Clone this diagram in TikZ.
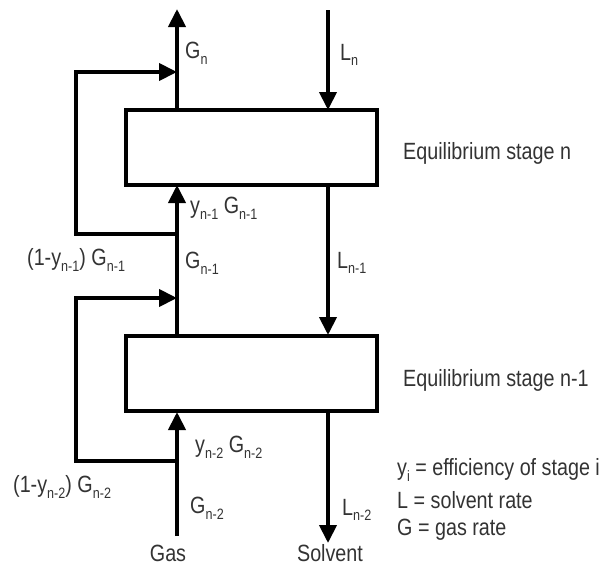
\documentclass[tikz,border=0pt]{standalone}
\usepackage{fontspec}
\setmainfont{Liberation Sans}[FakeStretch=0.84]
\usetikzlibrary{arrows.meta}
\definecolor{txt}{HTML}{333333}
\newcommand\dn[1]{\raisebox{-0.24em}{\fontsize{15}{15}\selectfont #1}}
\begin{document}
\begin{tikzpicture}[x=1pt,y=1pt,
  stagebox/.style={draw=black,line width=4pt,minimum width=251pt,minimum height=75pt,inner sep=0pt},
  flow/.style={line width=4pt,-{Triangle[length=18pt,width=17pt]}},
  lbl/.style={text=txt,font=\fontsize{23.5}{25}\selectfont,inner sep=0pt,anchor=west},
  clbl/.style={text=txt,font=\fontsize{23.5}{25}\selectfont,inner sep=0pt}]
\useasboundingbox (0,0) rectangle (609,-565);
% stages
\node[stagebox] (sn) at (251.5,-147.5) {};
\node[stagebox] (sm) at (251.5,-373.5) {};
% coordinates
\coordinate (gtop) at (177,-9);
\coordinate (snb) at (177,-110);
\coordinate (snbot) at (177,-185);
\coordinate (smt) at (177,-335);
\coordinate (smb) at (177,-412);
\coordinate (gbot) at (177,-536);
\coordinate (m1) at (177,-72);
\coordinate (j1) at (177,-234);
\coordinate (m2) at (177,-298);
\coordinate (j2) at (177,-461);
\coordinate (ltop) at (328,-10);
\coordinate (lnt) at (328,-110);
\coordinate (lnb) at (328,-185);
\coordinate (lmt) at (328,-335);
\coordinate (lmb) at (328,-412);
\coordinate (lbot) at (328,-543);
% gas flows
\draw[line width=4pt] (snb) -- (m1);
\draw[flow] (m1) -- (gtop);
\draw[line width=4pt] (smt) -- (m2);
\draw[line width=4pt] (m2) -- (j1);
\draw[flow] (j1) -- (snbot);
\draw[line width=4pt] (gbot) -- (j2);
\draw[flow] (j2) -- (smb);
% bypass loops
\draw[flow,line join=miter] (j1) -- (76,-234) -- (76,-72) -- (m1);
\draw[flow,line join=miter] (j2) -- (76,-461) -- (76,-298) -- (m2);
% liquid flows
\draw[flow] (ltop) -- (lnt);
\draw[flow] (lnb) -- (lmt);
\draw[flow] (lmb) -- (lbot);
% labels
\node[lbl] (lgn) at (185,-53) {G\dn{n}};
\node[lbl] (lln) at (340,-55) {L\dn{n}};
\node[lbl] (lyg1) at (190,-208) {y\dn{n-1} G\dn{n-1}};
\node[lbl] (lby1) at (27,-260) {(1-y\dn{n-1}) G\dn{n-1}};
\node[lbl] (lg1) at (185,-263) {G\dn{n-1}};
\node[lbl] (ll1) at (337,-263) {L\dn{n-1}};
\node[lbl] (lyg2) at (195,-447) {y\dn{n-2} G\dn{n-2}};
\node[lbl] (lby2) at (13,-487) {(1-y\dn{n-2}) G\dn{n-2}};
\node[lbl] (lg2) at (190,-508) {G\dn{n-2}};
\node[lbl] (ll2) at (342,-510) {L\dn{n-2}};
\node[clbl] (lgas) at (168,-553) {Gas};
\node[clbl] (lsol) at (330,-553) {Solvent};
\node[lbl] (esn) at (403,-153) {Equilibrium stage n};
\node[lbl] (esm) at (403,-380) {Equilibrium stage n-1};
\node[lbl] (leg1) at (397,-470) {y\dn{i} = efficiency of stage i};
\node[lbl] (leg2) at (397,-500) {L = solvent rate};
\node[lbl] (leg3) at (397,-530) {G = gas rate};
\end{tikzpicture}
\end{document}
